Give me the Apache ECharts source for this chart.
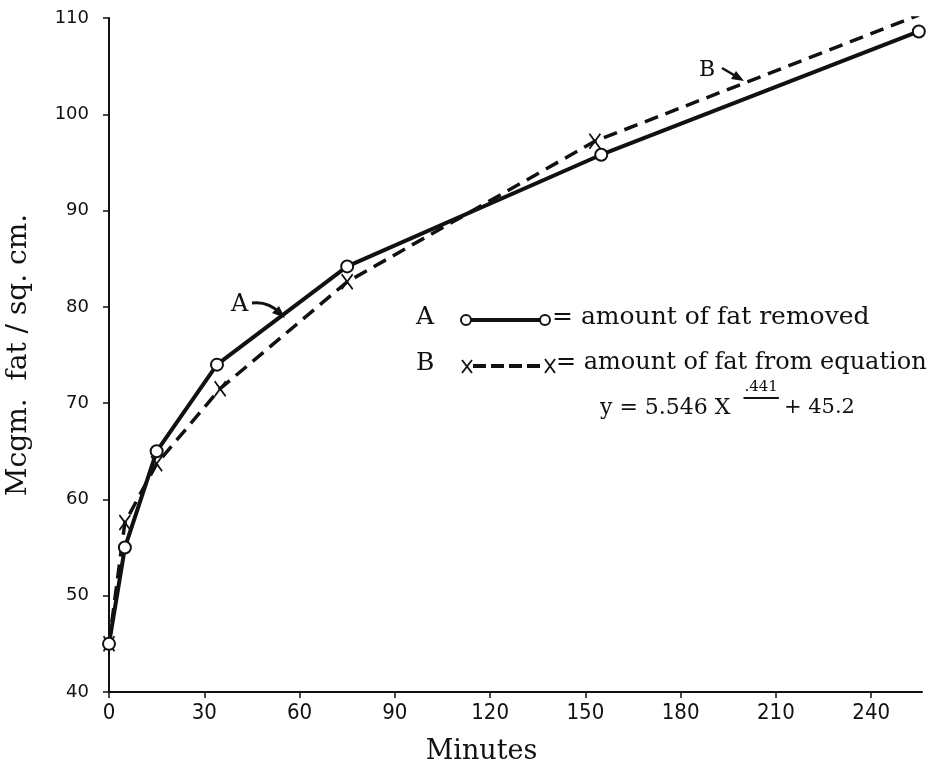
<!DOCTYPE html>
<html>
<head>
<meta charset="utf-8">
<script src="https://cdn.jsdelivr.net/npm/echarts@6/dist/echarts.min.js"></script>
<style>
html,body{margin:0;padding:0;background:#fff;}
#c{width:938px;height:776px;}
</style>
</head>
<body>
<div id="c"></div>
<script>
// Data
var xTicks = [0, 30, 60, 90, 120, 150, 180, 210, 240];
var yTicks = [40, 50, 60, 70, 80, 90, 100, 110];
var minutesA = [0, 5, 15, 34, 75, 155, 255];
var fatRemoved = [45, 55, 65, 74, 84.2, 95.8, 108.6];
var minutesB = [0, 5, 15, 35, 75, 153, 255];
var fatEquation = [45, 57.6, 63.7, 71.5, 82.6, 97.2, 110.3];

var serif = '"DejaVu Serif", "Liberation Serif", serif';
var sans = '"DejaVu Sans", sans-serif';
var narrow = '"DejaVu Sans Condensed", "Liberation Sans Narrow", "DejaVu Sans", sans-serif';

function pairs(xs, ys) { return xs.map(function (x, i) { return [x, ys[i]]; }); }
function txt(x, y, s, size) {
  return {type: 'text', x: x, y: y, style: {text: s, fontSize: size, fontFamily: serif, fill: '#111'}};
}
function seg(x1, y1, x2, y2, w, dash) {
  var st = {stroke: '#111', lineWidth: w};
  if (dash) st.lineDash = dash;
  return {type: 'line', shape: {x1: x1, y1: y1, x2: x2, y2: y2}, style: st};
}
var mctx = document.createElement('canvas').getContext('2d');
function textW(s, size) { mctx.font = size + 'px ' + serif; return mctx.measureText(s).width; }

var crossPath = 'path://M0,0L10,14M10,0L0,14';

// equation layout
var eqX = 600, eqY = 397, eqMain = 'y = 5.546 X', eqSup = '.441', eqTail = '+ 45.2';
var wMain = textW(eqMain, 22), wSup = textW(eqSup, 15);
var supX = eqX + wMain + 14;
var tailX = supX + wSup + 6;

var chart = echarts.init(document.getElementById('c'), null, {renderer: 'canvas'});
chart.setOption({
  animation: false,
  backgroundColor: '#fff',
  grid: {left: 109, right: 16, top: 18, bottom: 84, containLabel: false, outerBoundsMode: 'none'},
  xAxis: {
    type: 'value', min: 0, max: 256, interval: 30,
    name: 'Minutes', nameLocation: 'middle', nameGap: 46,
    nameTextStyle: {fontFamily: serif, fontSize: 27, color: '#111', padding: [0, 68, 0, 0]},
    axisLine: {show: true, lineStyle: {color: '#111', width: 2}},
    axisTick: {show: true, length: 6, lineStyle: {color: '#111', width: 1.5}, customValues: xTicks},
    axisLabel: {color: '#111', fontFamily: narrow, fontSize: 22, margin: 10, customValues: xTicks},
    splitLine: {show: false}
  },
  yAxis: {
    type: 'value', min: 40, max: 110, interval: 10,
    name: 'Mcgm.  fat / sq. cm.', nameLocation: 'middle', nameGap: 76, nameRotate: 90,
    nameTextStyle: {fontFamily: serif, fontSize: 28, color: '#111'},
    axisLine: {show: true, lineStyle: {color: '#111', width: 2}},
    axisTick: {show: true, length: 6, lineStyle: {color: '#111', width: 1.5}},
    axisLabel: {color: '#111', fontFamily: sans, fontSize: 18, margin: 20},
    splitLine: {show: false}
  },
  series: [
    {
      name: 'B', type: 'line', data: pairs(minutesB, fatEquation),
      symbol: crossPath, symbolSize: [11, 15], showAllSymbol: true,
      lineStyle: {color: '#111', width: 3.5, type: [14, 8]},
      itemStyle: {color: 'rgba(0,0,0,0)', borderColor: '#111', borderWidth: 1.8},
      z: 2
    },
    {
      name: 'A', type: 'line', data: pairs(minutesA, fatRemoved),
      symbol: 'circle', symbolSize: 12, showAllSymbol: true,
      lineStyle: {color: '#111', width: 4},
      itemStyle: {color: '#fff', borderColor: '#111', borderWidth: 2},
      z: 3
    }
  ],
  graphic: [
    // annotation A
    txt(231, 293, 'A', 24),
    {type: 'bezierCurve', shape: {x1: 252, y1: 303, cpx1: 268, cpy1: 301, x2: 280, y2: 313}, style: {stroke: '#111', lineWidth: 3, fill: null}},
    {type: 'polygon', shape: {points: [[285, 318], [272, 313], [279, 306]]}, style: {fill: '#111'}},
    // annotation B
    txt(699, 59, 'B', 22),
    seg(722, 68, 739, 78, 2.5),
    {type: 'polygon', shape: {points: [[744, 81], [731, 79], [736, 71]]}, style: {fill: '#111'}},
    // legend A
    txt(416, 305, 'A', 25),
    seg(470, 320, 541, 320, 4),
    {type: 'circle', shape: {cx: 466, cy: 320, r: 5}, style: {fill: '#fff', stroke: '#111', lineWidth: 2}},
    {type: 'circle', shape: {cx: 545, cy: 320, r: 5}, style: {fill: '#fff', stroke: '#111', lineWidth: 2}},
    txt(552, 305, '= amount of fat removed', 25),
    // legend B
    txt(416, 351, 'B', 25),
    seg(473, 366, 544, 366, 4, [13, 5]),
    seg(462, 360, 472, 373, 1.8), seg(472, 360, 462, 373, 1.8),
    seg(545, 359, 555, 373, 1.8), seg(555, 359, 545, 373, 1.8),
    txt(556, 351, '= amount of fat from equation', 24),
    // equation
    txt(eqX, eqY, eqMain, 22),
    txt(supX, eqY - 17, eqSup, 15),
    seg(supX - 1, eqY + 1, supX + wSup + 1, eqY + 1, 1.8),
    txt(tailX, eqY, eqTail, 21)
  ]
});
</script>
</body>
</html>
